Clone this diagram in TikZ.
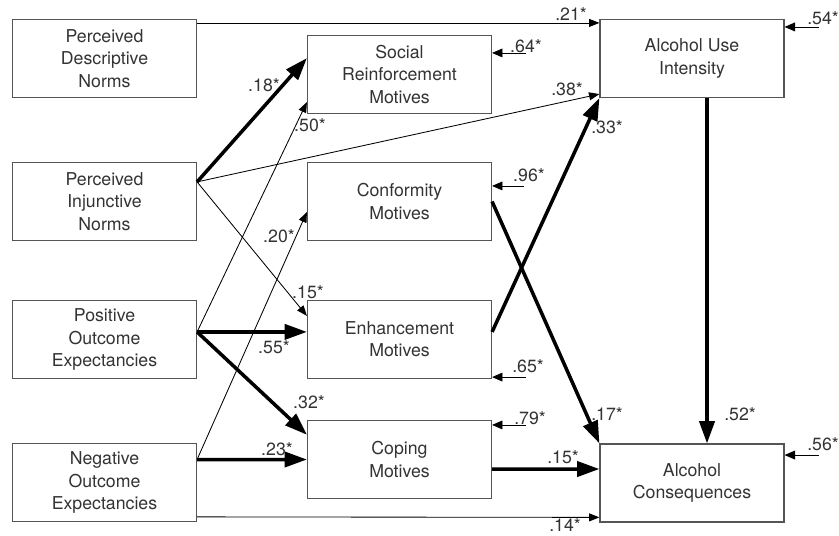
\documentclass[tikz,border=0pt]{standalone}
\usepackage{fontspec}
\setmainfont{TeX Gyre Heros}
\usetikzlibrary{arrows.meta,calc}
\definecolor{boxgray}{HTML}{555555}
\definecolor{textgray}{HTML}{333333}
\tikzset{
  var/.style={draw=boxgray, line width=0.8pt, align=center, text=textgray,
              minimum width=4.6cm, minimum height=1.95cm, inner sep=2pt,
              font=\fontsize{12.6}{15.8}\selectfont},
  thinarr/.style={-{Triangle[length=2.6mm, width=2mm]}, line width=0.6pt},
  thickarr/.style={-{Triangle[length=5.6mm, width=3.8mm]}, line width=2.5pt},
  err/.style={-{Triangle[length=2.6mm, width=2.2mm]}, line width=0.6pt},
  coef/.style={font=\fontsize{12.6}{15}\selectfont, text=textgray, inner sep=0pt},
}

\begin{document}
\begin{tikzpicture}[x=0.025cm, y=-0.025cm]
    \useasboundingbox (0,0) rectangle (839,535);
    % predictors
    \node[var] (pdn) at (104.5,58.5) {Perceived\\Descriptive\\Norms};
    \node[var] (pin) at (104.5,201.5) {Perceived\\Injunctive\\Norms};
    \node[var] (poe) at (104.5,339.5) {Positive\\Outcome\\Expectancies};
    \node[var] (noe) at (104.5,482.5) {Negative\\Outcome\\Expectancies};
    % motives
    \node[var] (srm) at (399.5,74.5) {Social\\Reinforcement\\Motives};
    \node[var] (con) at (399.5,201.5) {Conformity\\Motives};
    \node[var] (enh) at (399.5,339.5) {Enhancement\\Motives};
    \node[var] (cop) at (399.5,459.5) {Coping\\Motives};
    % outcomes
    \node[var] (aui) at (692,58.5) {Alcohol Use\\Intensity};
    \node[var] (ac) at (692,483) {Alcohol\\Consequences};

    % thin paths
    \draw[thinarr] ([yshift=-1mm]pdn.north east) -- ([yshift=-1mm]aui.north west);
    \draw[thinarr] ([yshift=4.9mm]pin.east) -- ([yshift=1mm]aui.south west);
    \draw[thinarr] ([yshift=4.9mm]pin.east) -- ([yshift=5.9mm]enh.west);
    \draw[thinarr] ([yshift=1.9mm]poe.east) -- ([yshift=3mm]srm.south west);
    \draw[thinarr] ([yshift=5.75mm]noe.east) -- ([yshift=-2.6mm]con.west);
    \draw[thinarr] ([yshift=1.3mm]noe.south east) -- ([yshift=1.3mm]ac.south west);
    % thick paths
    \draw[thickarr] ([yshift=4.9mm]pin.east) -- ([yshift=4.1mm]srm.west);
    \draw[thickarr] ([yshift=1.9mm]poe.east) -- ([yshift=1.9mm]enh.west);
    \draw[thickarr] ([yshift=1.9mm]poe.east) -- ([yshift=-3.7mm]cop.north west);
    \draw[thickarr] ([yshift=5.75mm]noe.east) -- (cop.west);
    \draw[thickarr] ([yshift=1.9mm]enh.east) -- (aui.south west);
    \draw[thickarr] (con.east) -- (ac.north west);
    \draw[thickarr] ([xshift=3.75mm]aui.south) -- ([xshift=3.75mm]ac.north);
    \draw[thickarr] ([yshift=-2.4mm]cop.east) -- ([yshift=3.5mm]ac.west);

    % residuals
    \coordinate (r1) at ([xshift=8.5mm,yshift=-2mm]aui.north east);
    \coordinate (r2) at ([xshift=8.5mm,yshift=-4.5mm]srm.north east);
    \coordinate (r3) at ([xshift=8mm,yshift=-6mm]con.north east);
    \coordinate (r4) at ([xshift=8.5mm,yshift=0.5mm]enh.south east);
    \coordinate (r5) at ([xshift=8.5mm,yshift=-1.25mm]cop.north east);
    \coordinate (r6) at ([xshift=8.5mm,yshift=-2.9mm]ac.north east);
    \draw[err] (r1) -- ([yshift=-2mm]aui.north east);
    \draw[err] (r2) -- ([yshift=-4.5mm]srm.north east);
    \draw[err] (r3) -- ([yshift=-6mm]con.north east);
    \draw[err] (r4) -- ([yshift=0.5mm]enh.south east);
    \draw[err] (r5) -- ([yshift=-1.25mm]cop.north east);
    \draw[err] (r6) -- ([yshift=-2.9mm]ac.north east);

    % coefficients
    \node[coef] (c21) at (571,14) {.21*};
    \node[coef] (c18) at (264,85) {.18*};
    \node[coef] (c50) at (310,125) {.50*};
    \node[coef] (c38) at (567,89) {.38*};
    \node[coef] (c33) at (607,127) {.33*};
    \node[coef] (c20) at (279,236) {.20*};
    \node[coef] (c15a) at (308,292) {.15*};
    \node[coef] (c55) at (274,347) {.55*};
    \node[coef] (c32) at (309,402) {.32*};
    \node[coef] (c23) at (277,449) {.23*};
    \node[coef] (c17) at (607,414) {.17*};
    \node[coef] (c52) at (740,414) {.52*};
    \node[coef] (c15b) at (563,457) {.15*};
    \node[coef] (c14) at (565,525) {.14*};
    \node[coef] (c64) at (526,46) {.64*};
    \node[coef] (c96) at (529,175) {.96*};
    \node[coef] (c65) at (528,366) {.65*};
    \node[coef] (c79) at (530,418) {.79*};
    \node[coef] (c56) at (823,444) {.56*};
    \node[coef] (c54) at (823,18) {.54*};
\end{tikzpicture}
\end{document}
